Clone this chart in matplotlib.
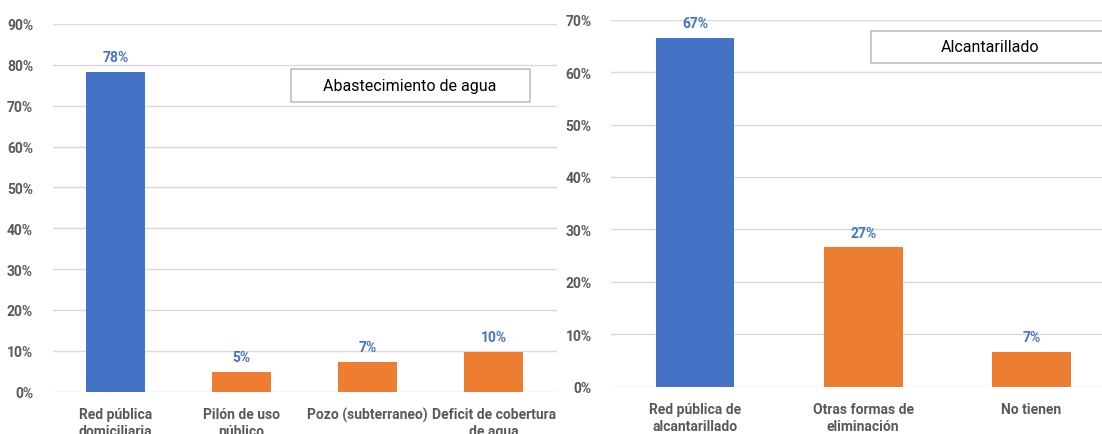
import matplotlib.pyplot as plt
from matplotlib.patches import Rectangle
from matplotlib.ticker import PercentFormatter

# Abastecimiento de agua
agua_cats = ["Red pública\ndomiciliaria", "Pilón de uso\npúblico",
             "Pozo (subterraneo)", "Deficit de cobertura\nde agua"]
agua_vals = [0.783, 0.048, 0.073, 0.097]
agua_colors = ["#4472C4", "#ED7D31", "#ED7D31", "#ED7D31"]

# Alcantarillado
alc_cats = ["Red pública de\nalcantarillado", "Otras formas de\neliminación", "No tienen"]
alc_vals = [0.666, 0.266, 0.067]
alc_colors = ["#4472C4", "#ED7D31", "#ED7D31"]

plt.rcParams["font.family"] = ["Roboto", "DejaVu Sans"]

W, H = 1102, 435
fig = plt.figure(figsize=(W / 100, H / 100), dpi=100)
fig.set_facecolor("white")


def px_axes(x0, x1, ytop, ybot):
    return fig.add_axes([x0 / W, (H - ybot) / H, (x1 - x0) / W, (ybot - ytop) / H])


def draw_panel(ax, cats, vals, colors, ymax, xlim):
    x = range(len(cats))
    ax.bar(x, vals, width=0.468, color=colors, zorder=3)
    for xi, v in zip(x, vals):
        ax.annotate(f"{round(v * 100)}%", (xi, v), textcoords="offset points",
                    xytext=(0, 5.5), ha="center", va="bottom", color="#4472C4",
                    fontsize=10, fontweight="bold")
    ax.set_ylim(0, ymax)
    ax.set_xlim(*xlim)
    ax.set_yticks([i / 10 for i in range(int(round(ymax * 10)) + 1)])
    ax.yaxis.set_major_formatter(PercentFormatter(1.0, decimals=0))
    ax.set_xticks(list(x))
    ax.set_xticklabels(cats, linespacing=1.25)
    ax.grid(axis="y", color="#D9D9D9", linewidth=1.0, zorder=0)
    for s in ax.spines.values():
        s.set_visible(False)
    ax.tick_params(length=0, labelsize=10, labelcolor="#595959", pad=11)
    ax.tick_params(axis="y", pad=14)
    plt.setp(ax.get_xticklabels() + ax.get_yticklabels(), fontweight="bold")


ax1 = px_axes(52.5, 557, 25, 392.7)
draw_panel(ax1, agua_cats, agua_vals, agua_colors, 0.9, (-0.5, 3.5))

ax2 = px_axes(611, 1102, 20.7, 387.7)
draw_panel(ax2, alc_cats, alc_vals, alc_colors, 0.7, (-0.5, 2.42))


def title_box(x0, x1, ytop, ybot, text, cx):
    fig.patches.append(Rectangle((x0 / W, (H - ybot) / H), (x1 - x0) / W, (ybot - ytop) / H,
                                 transform=fig.transFigure, facecolor="white",
                                 edgecolor="#BFBFBF", linewidth=1.2, zorder=5))
    fig.text(cx / W, (H - (ytop + ybot) / 2) / H, text, ha="center", va="center",
             fontsize=11.5, color="black", zorder=6)


title_box(290.7, 529.8, 70, 102.7, "Abastecimiento de agua", 409.4)
title_box(870.7, 1110, 31.7, 64, "Alcantarillado", 990)

fig.savefig("out.png", dpi=100)
